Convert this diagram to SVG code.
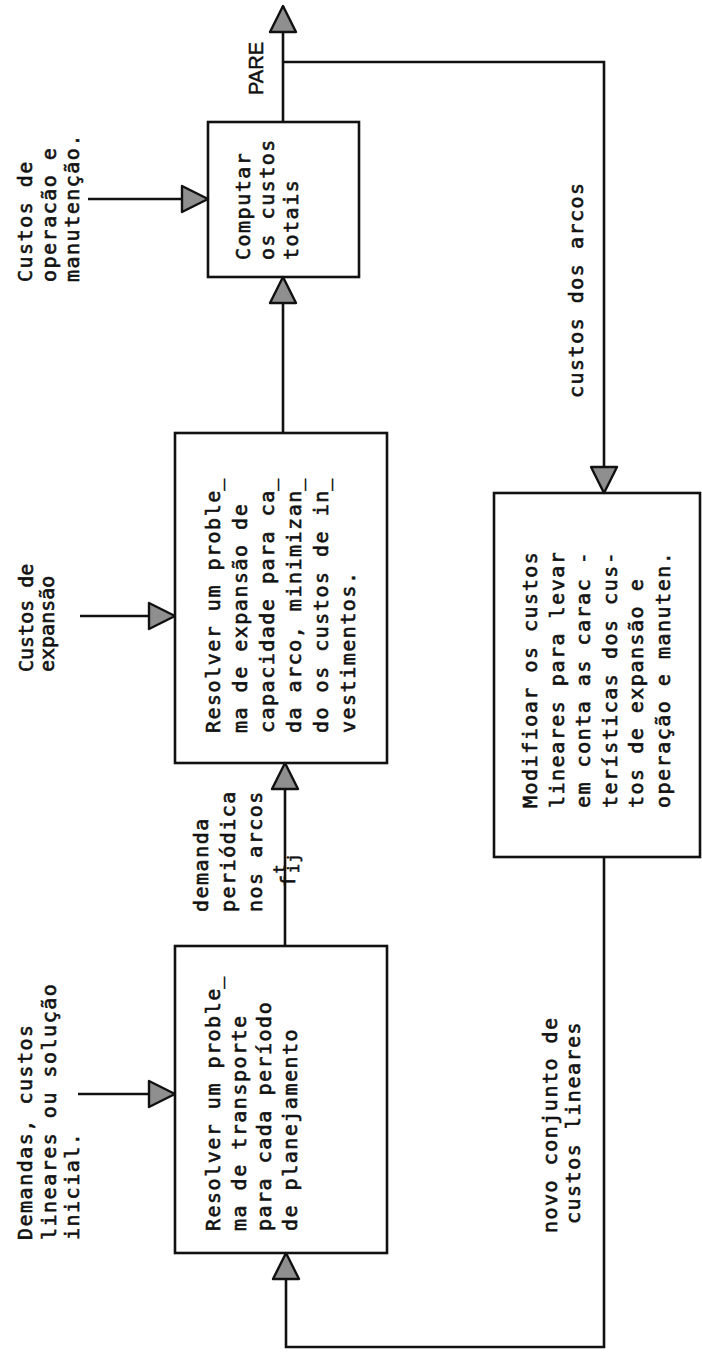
<svg xmlns="http://www.w3.org/2000/svg" width="702" height="1353" viewBox="0 0 702 1353">
<style>
.t{font-family:"DejaVu Sans Mono","Liberation Mono",monospace;font-size:20px;letter-spacing:1.5px;fill:#111;stroke:#111;stroke-width:0.6px}
.s{font-family:"Liberation Sans",Arial,sans-serif;font-size:20px;fill:#111;stroke:#111;stroke-width:0.5px}
.box{fill:none;stroke:#111;stroke-width:2.6}
.ln{fill:none;stroke:#111;stroke-width:2.6;marker-end:url(#ah)}
</style>
<defs>
<marker id="ah" markerUnits="userSpaceOnUse" markerWidth="32" markerHeight="32" viewBox="-3 -3 32 32" refX="26" refY="13" orient="auto">
<path d="M0,0 L26,13 L0,26 Z" fill="#8f8f8f" stroke="#111" stroke-width="2.4" stroke-linejoin="round"/>
</marker>
</defs>
<rect width="702" height="1353" fill="#fff"/>

<g id="connectors">
<path class="ln" d="M78,1094 H175"/>
<path class="ln" d="M80,616 H175"/>
<path class="ln" d="M88,199 H208"/>
<path class="ln" d="M285,946 V763"/>
<path class="ln" d="M283,433 V277"/>
<path class="ln" d="M283,122 V6"/>
<path class="ln" d="M283,62 H604 V493"/>
<path class="ln" d="M604,857 V1347 H286 V1253"/>
</g>

<g id="node-transporte">
<rect class="box" x="175" y="946" width="212" height="307"/>
<text class="t" transform="translate(220,1231) rotate(-90)"><tspan x="0" y="0">Resolver um proble&#818;</tspan><tspan x="0" dy="25.5">ma de transporte</tspan><tspan x="0" dy="25.5">para cada período</tspan><tspan x="0" dy="25.5">de planejamento</tspan></text>
</g>

<g id="node-expansao">
<rect class="box" x="175" y="433" width="212" height="330"/>
<text class="t" transform="translate(220,733) rotate(-90)"><tspan x="0" y="0">Resolver um proble&#818;</tspan><tspan x="0" dy="27">ma de expansão de</tspan><tspan x="0" dy="27">capacidade para ca&#818;</tspan><tspan x="0" dy="27">da arco, minimizan&#818;</tspan><tspan x="0" dy="27">do os custos de in&#818;</tspan><tspan x="0" dy="27">vestimentos.</tspan></text>
</g>

<g id="node-computar">
<rect class="box" x="208" y="122" width="151" height="155"/>
<text class="t" transform="translate(250,260) rotate(-90)"><tspan x="0" y="0">Computar</tspan><tspan x="0" dy="24">os custos</tspan><tspan x="0" dy="24">totais</tspan></text>
</g>

<g id="node-modificar">
<rect class="box" x="494" y="493" width="206" height="364"/>
<text class="t" transform="translate(537,808) rotate(-90)"><tspan x="0" y="0">Modifioar os custos</tspan><tspan x="0" dy="26.6">lineares para levar</tspan><tspan x="0" dy="26.6">em conta as carac -</tspan><tspan x="0" dy="26.6">terísticas dos cus-</tspan><tspan x="0" dy="26.6">tos de expansão e</tspan><tspan x="0" dy="26.6">operação e manuten.</tspan></text>
</g>

<g id="labels">
<text class="t" transform="translate(32,1240) rotate(-90)"><tspan x="0" y="0">Demandas, custos</tspan><tspan x="0" dy="23.5">lineares ou solução</tspan><tspan x="0" dy="23.5">inicial.</tspan></text>
<text class="t" style="letter-spacing:0" transform="translate(33,672) rotate(-90)"><tspan x="0" y="0">Custos de</tspan><tspan x="0" dy="21">expansão</tspan></text>
<text class="t" transform="translate(32,282) rotate(-90)"><tspan x="0" y="0">Custos de</tspan><tspan x="0" dy="23.5">operacão e</tspan><tspan x="0" dy="23.5">manutenção.</tspan></text>
<text class="t" transform="translate(208,912) rotate(-90)"><tspan x="0" y="0">demanda</tspan><tspan x="0" dy="27">periódica</tspan><tspan x="0" dy="27">nos arcos</tspan></text>
<text class="t" transform="translate(295,887) rotate(-90)">f<tspan dy="-10" font-size="15">t</tspan><tspan dx="-10" dy="14" font-size="15">ij</tspan></text>
<text class="s" transform="translate(263,95) rotate(-90)">PARE</text>
<text class="t" transform="translate(583,398) rotate(-90)">custos dos arcos</text>
<text class="t" transform="translate(557,1233) rotate(-90)"><tspan x="0" y="0">novo conjunto de</tspan><tspan x="9" dy="23">custos lineares</tspan></text>
</g>
</svg>
